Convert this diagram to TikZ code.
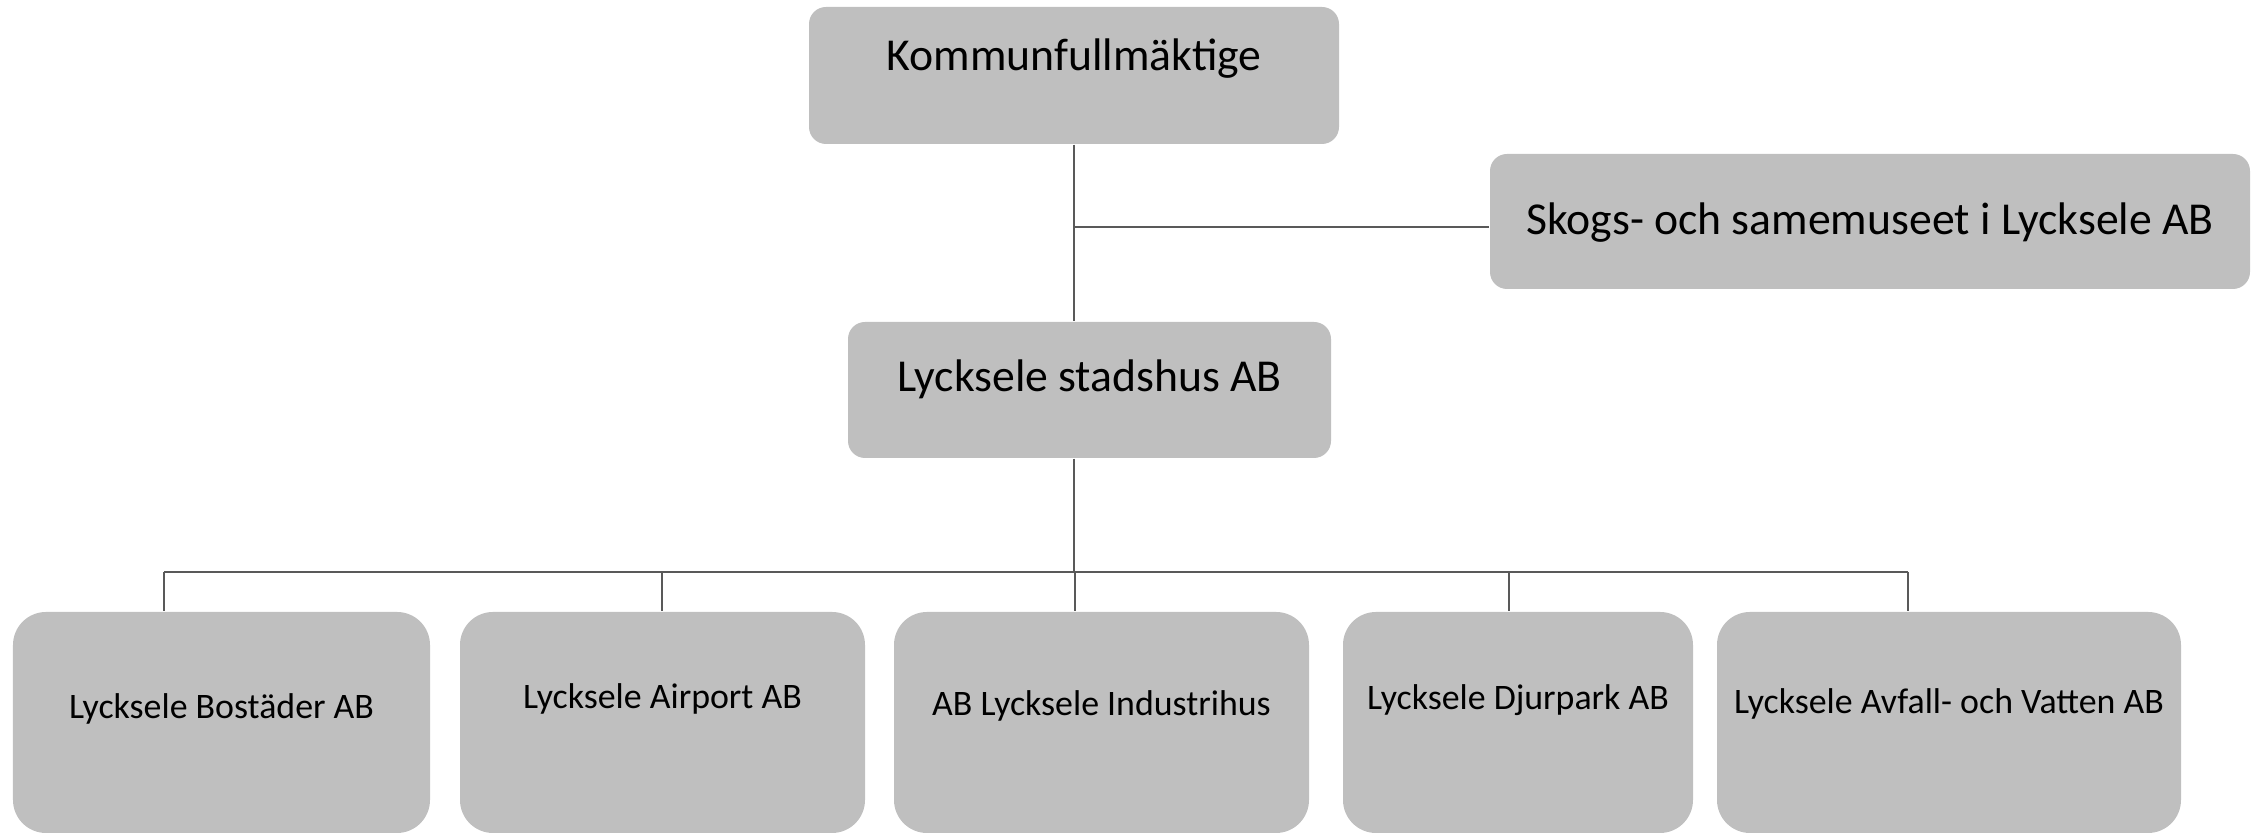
\documentclass[tikz,border=0pt]{standalone}
\usepackage{fontspec}
\setmainfont{Carlito}
\definecolor{orgBoxColor}{RGB}{191,191,191}
\definecolor{orgLineColor}{RGB}{89,89,89}

\begin{document}
\begin{tikzpicture}
            \tikzset{box/.style={fill=orgBoxColor, rounded corners=0.17cm, inner sep=0pt, align=center, font=\fontsize{13}{15.6}\selectfont},
                     sub/.style={box, rounded corners=0.33cm, minimum width=#1, font=\fontsize{10.2}{12.2}\selectfont},
                     conn/.style={draw=orgLineColor, line width=0.45pt}}

            \useasboundingbox (0,0) rectangle (22.53,8.35);

            \node[box, minimum width=5.30cm, text height=0.635cm, text depth=0.735cm] (kf) at (10.74,7.595) {Kommunfullmäktige};
            \node[box, minimum width=7.60cm, text height=0.81cm, text depth=0.54cm] (skogs) at (18.70,6.135) {Skogs- och samemuseet i Lycksele AB};
            \node[box, minimum width=4.83cm, text height=0.70cm, text depth=0.66cm] (stad) at (10.895,4.45) {Lycksele stadshus AB};

            \node[sub=4.17cm, text height=1.07cm, text depth=1.14cm] (bostader) at (2.215,1.125) {Lycksele Bostäder AB};
            \node[sub=4.05cm, text height=0.97cm, text depth=1.24cm] (airport) at (6.625,1.125) {Lycksele Airport AB};
            \node[sub=4.15cm, text height=1.04cm, text depth=1.17cm] (industri) at (11.015,1.125) {AB Lycksele Industrihus};
            \node[sub=3.50cm, text height=0.98cm, text depth=1.23cm] (djurpark) at (15.18,1.125) {Lycksele Djurpark AB};
            \node[sub=4.64cm, text height=1.02cm, text depth=1.19cm] (avfall) at (19.49,1.125) {Lycksele Avfall- och Vatten AB};

            \coordinate (fork) at (10.74,6.08);
            \coordinate (bus) at (10.74,2.63);
            \coordinate (b1) at (1.64,2.63);
            \coordinate (b2) at (6.62,2.63);
            \coordinate (b3) at (10.75,2.63);
            \coordinate (b4) at (15.09,2.63);
            \coordinate (b5) at (19.08,2.63);

            \draw[conn] (kf.south) -- (kf.south |- stad.north);
            \draw[conn] (fork) -- (fork -| skogs.west);
            \draw[conn] (bus |- stad.south) -- (bus);
            \draw[conn] (b1) -- (b5);
            \draw[conn] (b1) -- (b1 |- bostader.north);
            \draw[conn] (b2) -- (b2 |- airport.north);
            \draw[conn] (b3) -- (b3 |- industri.north);
            \draw[conn] (b4) -- (b4 |- djurpark.north);
            \draw[conn] (b5) -- (b5 |- avfall.north);
        \end{tikzpicture}
\end{document}
